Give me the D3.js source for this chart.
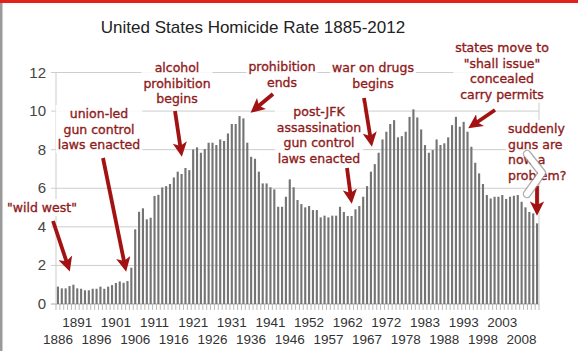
<!DOCTYPE html>
<html>
<head>
<meta charset="utf-8">
<script src="https://cdn.jsdelivr.net/npm/d3@7"></script>
<style>
  body { margin: 0; background: #fff; }
  svg { display: block; }
</style>
</head>
<body>
<svg id="chart"></svg>
<script>
// --- data ---
const missingYears = [1949, 1974];
const years = d3.range(1886, 2013).filter(y => !missingYears.includes(y));

const rates = [
  0.90, 0.81, 0.81, 0.93, 1.00, 0.81, 0.79, 0.71, 0.71, 0.79,
  0.79, 0.90, 0.79, 0.90, 0.98, 1.09, 1.17, 1.10, 1.19, 1.88,
  3.87, 4.78, 4.96, 4.39, 4.47, 5.60, 5.66, 6.04, 6.11, 6.22,
  6.56, 6.86, 6.74, 7.05, 6.94, 8.01, 8.12, 7.84, 8.03, 8.36,
  8.36, 8.24, 8.53, 8.45, 8.84, 9.33, 9.33, 9.74, 9.62, 8.36,
  7.63, 7.53, 6.86, 6.25, 6.25, 6.05, 5.94, 5.04, 5.04, 5.56,
  6.46, 6.05, 5.39, 5.18, 5.01, 5.08, 4.87, 4.87, 4.49, 4.58,
  4.49, 4.58, 4.58, 5.04, 4.77, 4.56, 4.56, 4.91, 5.08, 5.56,
  6.11, 6.86, 7.25, 7.84, 8.53, 8.93, 9.33, 9.53, 8.64, 8.70,
  8.93, 9.70, 10.09, 9.67, 9.05, 8.24, 7.84, 7.98, 8.53, 8.24,
  8.33, 8.64, 9.27, 9.70, 9.19, 9.44, 8.93, 8.15, 7.32, 6.77,
  6.22, 5.65, 5.47, 5.56, 5.56, 5.65, 5.45, 5.56, 5.61, 5.65,
  5.30, 5.01, 4.77, 4.70, 4.18
];

const yTicks = [0, 2, 4, 6, 8, 10, 12];
const labelYears = [1886, 1891, 1896, 1901, 1906, 1911, 1916, 1921, 1926, 1931,
  1936, 1941, 1946, 1952, 1957, 1962, 1967, 1972, 1978, 1983, 1988, 1993,
  1998, 2003, 2008];

const title = "United States Homicide Rate 1885-2012";

// annotation texts (layout below)
const noteTexts = [
  ['"wild west"'],
  ["union-led", "gun control", "laws enacted"],
  ["alcohol", "prohibition", "begins"],
  ["prohibition", "ends"],
  ["war on drugs", "begins"],
  ["post-JFK", "assassination", "gun control", "laws enacted"],
  ["states move to", '"shall issue"', "concealed", "carry permits"],
  ["suddenly", "guns are", "now a", "problem?"]
];

// --- layout ---
const W = 578, H = 351;
const plot = { left: 56, right: 539, top: 72.5, bottom: 304 };

const svg = d3.select("#chart").attr("width", W).attr("height", H);

svg.append("rect").attr("width", W).attr("height", H).attr("fill", "#fff");

const x = d3.scaleBand()
  .domain(years)
  .range([plot.left, plot.right])
  .paddingInner(0.45)
  .paddingOuter(0.225);

const y = d3.scaleLinear().domain([0, 12]).range([plot.bottom, plot.top]);

// gridlines + y labels
const grid = svg.append("g");
grid.selectAll("line.grid")
  .data(yTicks)
  .join("line")
  .attr("class", "grid")
  .attr("x1", plot.left - 5).attr("x2", plot.right)
  .attr("y1", d => y(d)).attr("y2", d => y(d))
  .attr("stroke", d => d === 0 ? "#aaa" : "#cdcdcd")
  .attr("stroke-width", 1);

svg.append("line")
  .attr("x1", plot.left).attr("x2", plot.left)
  .attr("y1", plot.top).attr("y2", plot.bottom)
  .attr("stroke", "#cdcdcd");
svg.append("line")
  .attr("x1", plot.right).attr("x2", plot.right)
  .attr("y1", plot.top).attr("y2", plot.bottom)
  .attr("stroke", "#cdcdcd");

grid.selectAll("text")
  .data(yTicks)
  .join("text")
  .attr("x", plot.left - 10)
  .attr("y", d => y(d) + 5)
  .attr("text-anchor", "end")
  .attr("font-family", "Liberation Sans, Arial, sans-serif")
  .attr("font-size", 15)
  .attr("fill", "#444")
  .text(d => d);

// category tick marks under the baseline
const step = x.step();
svg.append("g")
  .selectAll("line")
  .data(d3.range(years.length + 1))
  .join("line")
  .attr("x1", i => plot.left + i * step)
  .attr("x2", i => plot.left + i * step)
  .attr("y1", plot.bottom)
  .attr("y2", plot.bottom + 6)
  .attr("stroke", "#aaa")
  .attr("stroke-width", 0.8);

// bars
svg.append("g")
  .selectAll("rect")
  .data(years.map((yr, i) => ({ yr, v: rates[i] })))
  .join("rect")
  .attr("x", d => x(d.yr))
  .attr("width", x.bandwidth())
  .attr("y", d => y(d.v))
  .attr("height", d => y(0) - y(d.v))
  .attr("fill", "#747474");

// x labels, staggered in two rows
svg.append("g")
  .selectAll("text")
  .data(labelYears)
  .join("text")
  .attr("x", d => x(d) + x.bandwidth() / 2)
  .attr("y", (d, i) => i % 2 === 0 ? 344 : 327)
  .attr("text-anchor", "middle")
  .attr("font-family", "Liberation Sans, Arial, sans-serif")
  .attr("font-size", 13.5)
  .attr("fill", "#333")
  .text(d => d);

// title
svg.append("text")
  .attr("x", 253)
  .attr("y", 33)
  .attr("text-anchor", "middle")
  .attr("font-family", "Liberation Sans, Arial, sans-serif")
  .attr("font-size", 17)
  .attr("fill", "#222")
  .text(title);

// annotations
const red = "#a31212";
const defs = svg.append("defs");
defs.append("marker")
  .attr("id", "head")
  .attr("viewBox", "0 0 10 10")
  .attr("refX", 6).attr("refY", 5)
  .attr("markerWidth", 3.8).attr("markerHeight", 3.8)
  .attr("orient", "auto")
  .append("path")
  .attr("d", "M0,0 L10,5 L0,10 L2.5,5 Z")
  .attr("fill", red);

// [x, first baseline, anchor, arrow x1, y1, x2, y2]
const noteLayout = [
  [7, 212, "start", 53, 221, 68, 266],
  [99, 118, "middle", 103, 158, 125, 266],
  [177, 72, "middle", 175, 111, 181, 151],
  [282, 71, "middle", 273, 94, 255, 109],
  [373, 72, "middle", 364, 98, 371, 141],
  [319, 116, "middle", 347, 168, 351, 198],
  [502, 52, "middle", 495, 110, 473, 125],
  [508, 133, "start", 537, 186, 537, 210]
];
const lineH = 15.6;

const notesG = svg.append("g");
noteTexts.forEach((lines, k) => {
  const [tx, ty, anchor, ax1, ay1, ax2, ay2] = noteLayout[k];
  const g = notesG.append("g");
  const bg = g.append("rect").attr("fill", "#fff").attr("opacity", 0.85);
  const t = g.append("text")
    .attr("font-family", "DejaVu Sans, Verdana, sans-serif")
    .attr("font-size", 12.5)
    .attr("fill", "#8f1b1b")
    .attr("stroke", "#8f1b1b")
    .attr("stroke-width", 0.35)
    .attr("text-anchor", anchor);
  lines.forEach((ln, j) => {
    t.append("tspan").attr("x", tx).attr("y", ty + j * lineH).text(ln);
  });
  const bb = t.node().getBBox();
  bg.attr("x", bb.x - 2).attr("y", bb.y - 1)
    .attr("width", bb.width + 4).attr("height", bb.height + 2);
  g.append("line")
    .attr("x1", ax1).attr("y1", ay1).attr("x2", ax2).attr("y2", ay2)
    .attr("stroke", red)
    .attr("stroke-width", 3.8)
    .attr("marker-end", "url(#head)");
});

// slideshow chevron overlay
const chev = "M527,154 L542,173 L527,194";
svg.append("path").attr("d", chev).attr("fill", "none")
  .attr("stroke", "#8a8a8a").attr("stroke-width", 8.5)
  .attr("stroke-linecap", "round").attr("stroke-linejoin", "round").attr("opacity", 0.7);
svg.append("path").attr("d", chev).attr("fill", "none")
  .attr("stroke", "#fff").attr("stroke-width", 6)
  .attr("stroke-linecap", "round").attr("stroke-linejoin", "round");

// frame
svg.append("rect").attr("x", 0).attr("y", 0).attr("width", W).attr("height", 3).attr("fill", "#e3201b");
svg.append("rect").attr("x", 0).attr("y", 3).attr("width", 2.5).attr("height", H - 3).attr("fill", "#9a9a9a");
</script>
</body>
</html>
